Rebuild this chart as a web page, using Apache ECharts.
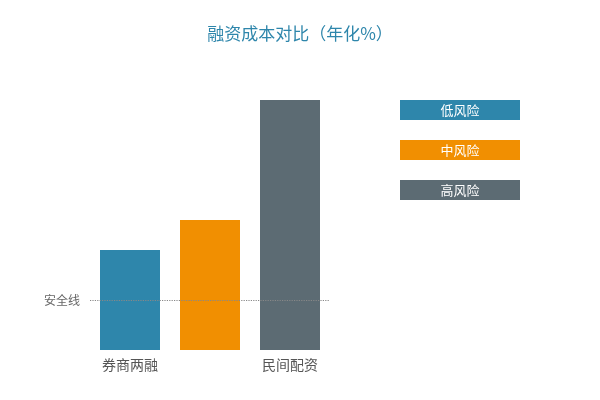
<!DOCTYPE html>
<html><head><meta charset="utf-8">
<script src="https://cdn.jsdelivr.net/npm/echarts@6/dist/echarts.min.js"></script>
<style>body{margin:0}#c{width:600px;height:400px}</style></head>
<body><div id="c"></div>
<script>
const categories = ['券商两融','银行信用贷','民间配资'];
const rates = [6.5, 7.5, 22];          // 年化 %
const riskLabels = ['低风险','中风险','高风险'];
const colors = ['#2e86ab','#f18f01','#5c6b73'];
// Chart uses a non-linear display scale: rate -> scale position
const scaleRates = [0, 3, 6.5, 7.5, 22, 50];
const scalePos   = [0, 50, 100, 130, 250, 305];
const tickLabels = [{t:'安全线',pos:50},{t:'6.5%',pos:105},{t:'7.5%',pos:135},{t:'22%',pos:255},{t:'50%',pos:305}];
function toScale(v){for(let i=1;i<scaleRates.length;i++){if(v<=scaleRates[i]){const f=(v-scaleRates[i-1])/(scaleRates[i]-scaleRates[i-1]);return scalePos[i-1]+f*(scalePos[i]-scalePos[i-1]);}}return scalePos[scalePos.length-1];}
const chart = echarts.init(document.getElementById('c'));
const font = 'Noto Sans CJK SC';
chart.setOption({
  textStyle:{fontFamily:font},
  title:{text:'融资成本对比（年化%）',left:'center',top:20,textStyle:{color:'#2e86ab',fontSize:17,fontWeight:'normal',fontFamily:font}},
  grid:{left:90,right:270,top:45,bottom:50},
  xAxis:{type:'category',data:categories,axisLine:{show:false},axisTick:{show:false},axisLabel:{color:'#555',fontSize:14,margin:8}},
  yAxis:{type:'value',min:0,max:305,show:false},
  series:[{type:'bar',barWidth:60,
    data:rates.map((v,i)=>({value:toScale(v),itemStyle:{color:colors[i]}})),
    markLine:{silent:true,symbol:'none',
      data:tickLabels.map(o=>({yAxis:o.pos,name:o.t,
        lineStyle:o.t==='安全线'?{color:'#888',type:'dotted',width:1.2}:{opacity:0},
        label:{show:true,position:'start',formatter:o.t,color:'#666',fontSize:12,distance:[10,0]}}))}
  }],
  graphic:riskLabels.map((t,i)=>({type:'group',left:400,top:100+40*i,children:[
    {type:'rect',shape:{width:120,height:20},style:{fill:colors[i]}},
    {type:'text',style:{text:t,x:60,y:10,align:'center',verticalAlign:'middle',fill:'#fff',fontSize:13,fontFamily:font}}]}))
});
</script></body></html>
